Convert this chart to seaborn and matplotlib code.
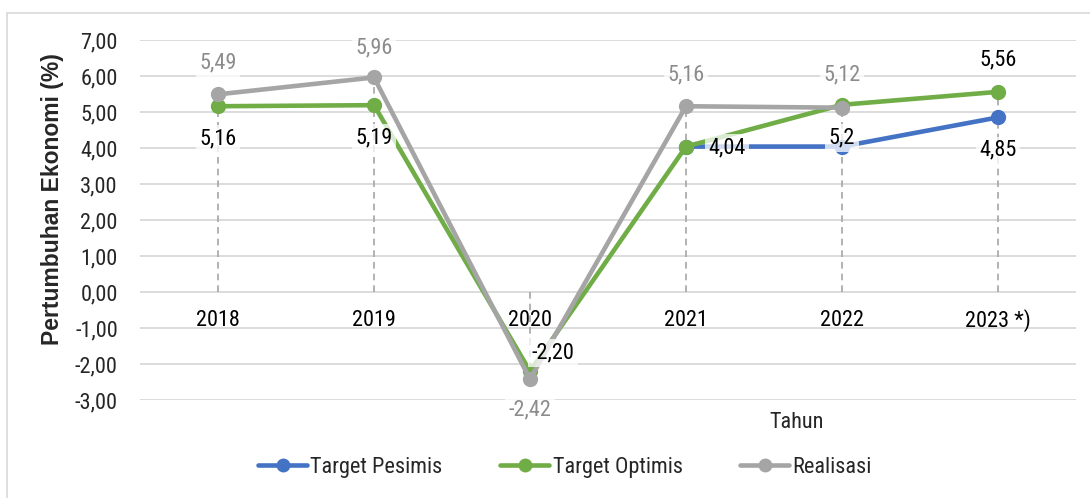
import numpy as np
import pandas as pd
import seaborn as sns
import matplotlib
matplotlib.use("Agg")
import matplotlib.pyplot as plt
from matplotlib.lines import Line2D

# ---- data ----
years = ["2018", "2019", "2020", "2021", "2022", "2023 *)"]
target_pesimis = [np.nan, np.nan, np.nan, 4.04, 4.04, 4.85]
target_optimis = [5.16, 5.19, -2.20, 4.04, 5.20, 5.56]
realisasi = [5.49, 5.96, -2.42, 5.16, 5.12, np.nan]
series_names = ["Target Pesimis", "Target Optimis", "Realisasi"]
yticks = [-3, -2, -1, 0, 1, 2, 3, 4, 5, 6, 7]

# label texts shown (as in the source chart)
labels_pesimis = [None, None, None, None, None, "4,85"]
labels_optimis = ["5,16", "5,19", "-2,20", "4,04", "5,2", "5,56"]
labels_realisasi = ["5,49", "5,96", "-2,42", "5,16", "5,12", None]

# ---- style ----
colors = {"Target Pesimis": "#4472C4", "Target Optimis": "#70AD47", "Realisasi": "#A5A5A5"}
label_colors = {"Target Pesimis": "#000000", "Target Optimis": "#000000", "Realisasi": "#8C8C8C"}
# offsets in pixels (dx, dy) per point
offs_pesimis = [None] * 5 + [(0, -33)]
offs_optimis = [(0, -33), (0, -33), (23, 18), (41, -1), (0, -33), (0, 32)]
offs_realisasi = [(0, 31), (0, 30), (0, -31), (0, 31), (0, 33), None]

sns.set_style("white")
FONT = ["Roboto Condensed", "Liberation Sans", "DejaVu Sans"]
plt.rcParams["font.family"] = FONT
FS = 16

df = pd.DataFrame({
    "x": list(range(len(years))) * 3,
    "value": target_pesimis + target_optimis + realisasi,
    "series": sum([[n] * len(years) for n in series_names], []),
})

fig = plt.figure(figsize=(10.9, 4.98), dpi=100)
ax = fig.add_axes([140 / 1090, 1 - 400 / 498, (1076 - 140) / 1090, 360 / 498])

ax.set_ylim(-3, 7)
ax.set_xlim(-0.5, len(years) - 0.5)
ax.set_yticks(yticks)
ax.set_yticklabels([f"{v:.2f}".replace(".", ",") for v in yticks], fontsize=FS)
ax.tick_params(axis="y", length=0, pad=16)
ax.set_xticks([])
for s in ax.spines.values():
    s.set_visible(False)
for v in yticks:
    ax.axhline(v, color="#D9D9D9", lw=1.3, zorder=0)

# drop lines
allv = np.array([target_pesimis, target_optimis, realisasi], dtype=float)
for i in range(len(years)):
    col = allv[:, i]
    col = col[~np.isnan(col)]
    top = col.max() if col.max() > 0 else col.min()
    ax.plot([i, i], [0, top], ls=(0, (4, 3)), color="#A6A6A6", lw=1.2, zorder=1)

sns.lineplot(data=df, x="x", y="value", hue="series", hue_order=series_names,
             palette=colors, marker="o", markersize=11, markeredgewidth=0,
             linewidth=3.3, ax=ax, legend=False, zorder=3, sort=False)
for ln in ax.get_lines():
    ln.set_solid_capstyle("round")

# category labels inside plot
for i, y in enumerate(years):
    ax.text(i, -0.78, y, ha="center", va="center", fontsize=FS, color="black", zorder=6)

# data labels
data_map = {"Target Pesimis": (target_pesimis, labels_pesimis, offs_pesimis),
            "Target Optimis": (target_optimis, labels_optimis, offs_optimis),
            "Realisasi": (realisasi, labels_realisasi, offs_realisasi)}
for name in series_names:
    vals, labs, offs = data_map[name]
    for i, (v, lab, off) in enumerate(zip(vals, labs, offs)):
        if lab is None or off is None:
            continue
        ax.annotate(lab, (i, v), xytext=off, textcoords="offset pixels",
                    ha="center", va="center", fontsize=FS, color=label_colors[name],
                    bbox=dict(boxstyle="square,pad=0.15", fc="white", ec="none", alpha=0.75),
                    zorder=5, annotation_clip=False)

ax.set_ylabel("")
ax.set_xlabel("")
fig.text(53 / 1090, 1 - 199 / 498, "Pertumbuhan Ekonomi (%)", rotation=90,
         ha="center", va="center", fontsize=16.5, fontweight="bold",
         family=["Liberation Sans", "DejaVu Sans"])
fig.text(797 / 1090, 1 - 422 / 498, "Tahun", ha="center", va="center", fontsize=FS)

handles = [Line2D([0], [0], color=colors[n], lw=3.3, marker="o", markersize=10,
                  markeredgewidth=0, solid_capstyle="round") for n in series_names]
fig.legend(handles, series_names, loc="center", bbox_to_anchor=(565 / 1090, 1 - 467 / 498),
           ncol=3, frameon=False, fontsize=16, handlelength=2.2, handletextpad=0.15,
           columnspacing=2.6)

# outer chart border (top and left visible)
fig.add_artist(Line2D([7 / 1090, 7 / 1090], [0, 1 - 13 / 498], color="#D9D9D9", lw=1.2,
                      transform=fig.transFigure))
fig.add_artist(Line2D([7 / 1090, 1], [1 - 13 / 498, 1 - 13 / 498], color="#D9D9D9", lw=1.2,
                      transform=fig.transFigure))

fig.savefig("out.png", dpi=100)
